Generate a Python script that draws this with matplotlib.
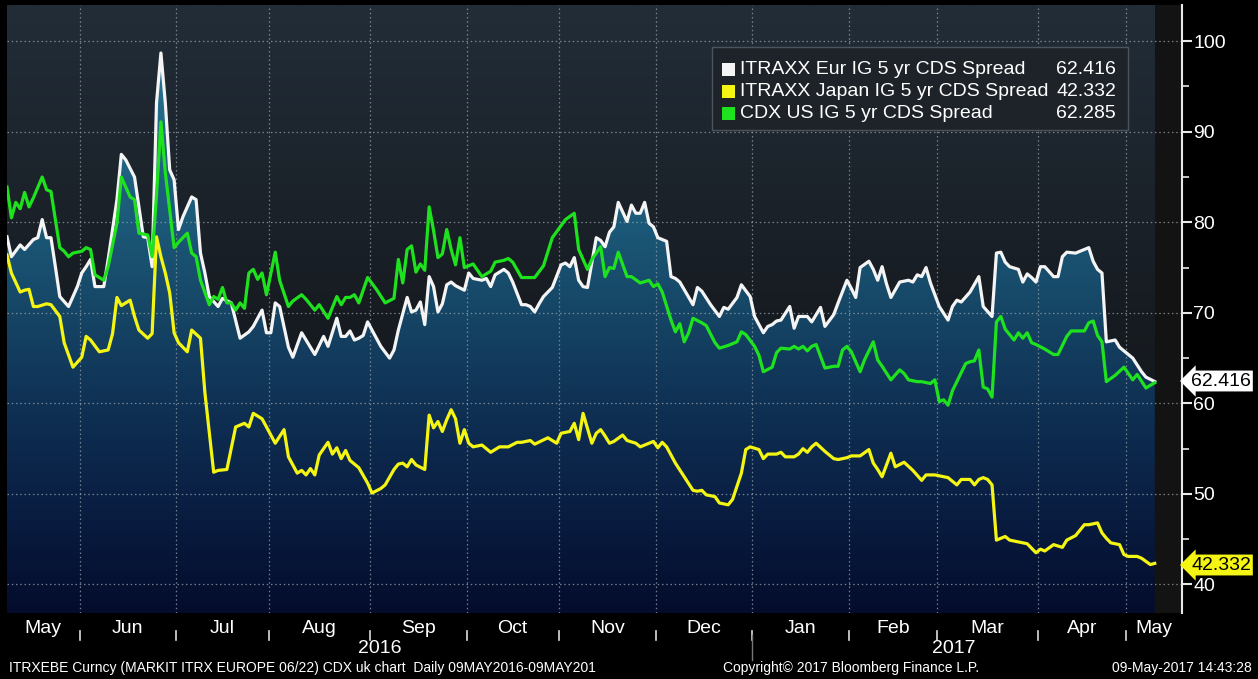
import numpy as np
import pandas as pd
import matplotlib
matplotlib.use('Agg')
import matplotlib.pyplot as plt
import matplotlib.transforms as mtransforms
from matplotlib.colors import LinearSegmentedColormap
from matplotlib.patches import Rectangle

plt.rcParams['font.family'] = ['Liberation Sans', 'DejaVu Sans']

# ITRAXX Eur IG 5 yr CDS Spread (white)
eur_dates = [
    '2016-05-09', '2016-05-10', '2016-05-12', '2016-05-13', '2016-05-17', '2016-05-18', '2016-05-19',
    '2016-05-20', '2016-05-23', '2016-05-24', '2016-05-25', '2016-05-27', '2016-05-31', '2016-06-01',
    '2016-06-02', '2016-06-03', '2016-06-06', '2016-06-08', '2016-06-09', '2016-06-13', '2016-06-14',
    '2016-06-15', '2016-06-17', '2016-06-20', '2016-06-21', '2016-06-22', '2016-06-23', '2016-06-24',
    '2016-06-27', '2016-06-28', '2016-06-29', '2016-06-30', '2016-07-01', '2016-07-04', '2016-07-06',
    '2016-07-07', '2016-07-08', '2016-07-11', '2016-07-12', '2016-07-14', '2016-07-15', '2016-07-19',
    '2016-07-21', '2016-07-25', '2016-07-26', '2016-07-28', '2016-07-29', '2016-08-01', '2016-08-02',
    '2016-08-03', '2016-08-05', '2016-08-08', '2016-08-10', '2016-08-11', '2016-08-15', '2016-08-17',
    '2016-08-18', '2016-08-22', '2016-08-23', '2016-08-24', '2016-08-25', '2016-08-26', '2016-08-29',
    '2016-08-30', '2016-08-31', '2016-09-05', '2016-09-07', '2016-09-08', '2016-09-09', '2016-09-13',
    '2016-09-14', '2016-09-15', '2016-09-16', '2016-09-19', '2016-09-20', '2016-09-21', '2016-09-22',
    '2016-09-23', '2016-09-26', '2016-09-27', '2016-09-28', '2016-09-30', '2016-10-03', '2016-10-04',
    '2016-10-06', '2016-10-07', '2016-10-10', '2016-10-11', '2016-10-13', '2016-10-14', '2016-10-17',
    '2016-10-19', '2016-10-20', '2016-10-21', '2016-10-24', '2016-10-25', '2016-10-26', '2016-10-28',
    '2016-11-01', '2016-11-02', '2016-11-03', '2016-11-04', '2016-11-07', '2016-11-08', '2016-11-09',
    '2016-11-11', '2016-11-14', '2016-11-15', '2016-11-16', '2016-11-17', '2016-11-18', '2016-11-22',
    '2016-11-23', '2016-11-24', '2016-11-25', '2016-11-28', '2016-11-29', '2016-11-30', '2016-12-01',
    '2016-12-05', '2016-12-06', '2016-12-07', '2016-12-08', '2016-12-13', '2016-12-14', '2016-12-15',
    '2016-12-19', '2016-12-21', '2016-12-22', '2016-12-23', '2016-12-27', '2016-12-28', '2016-12-30',
    '2017-01-02', '2017-01-04', '2017-01-05', '2017-01-06', '2017-01-09', '2017-01-10', '2017-01-12',
    '2017-01-13', '2017-01-16', '2017-01-18', '2017-01-19', '2017-01-23', '2017-01-24', '2017-01-26',
    '2017-01-27', '2017-01-31', '2017-02-01', '2017-02-02', '2017-02-03', '2017-02-07', '2017-02-08',
    '2017-02-09', '2017-02-10', '2017-02-13', '2017-02-14', '2017-02-16', '2017-02-20', '2017-02-21',
    '2017-02-22', '2017-02-23', '2017-02-24', '2017-02-27', '2017-03-01', '2017-03-03', '2017-03-06',
    '2017-03-07', '2017-03-08', '2017-03-10', '2017-03-14', '2017-03-15', '2017-03-17', '2017-03-20',
    '2017-03-21', '2017-03-22', '2017-03-23', '2017-03-27', '2017-03-28', '2017-03-29', '2017-03-30',
    '2017-03-31', '2017-04-03', '2017-04-04', '2017-04-06', '2017-04-07', '2017-04-10', '2017-04-11',
    '2017-04-13', '2017-04-14', '2017-04-18', '2017-04-19', '2017-04-20', '2017-04-21', '2017-04-24',
    '2017-04-26', '2017-04-27', '2017-05-01', '2017-05-02', '2017-05-04', '2017-05-05', '2017-05-09',
]
eur_vals = [
    78.4, 76.2, 77.5, 77.0, 78.1, 78.3, 80.3,
    78.3, 78.3, 75.1, 71.8, 70.7, 72.9, 74.4,
    75.1, 75.9, 72.9, 72.9, 75.9, 82.5, 87.5,
    86.9, 85.0, 81.7, 78.4, 78.3, 75.1, 93.2,
    98.7, 93.2, 85.8, 84.7, 79.2, 80.6, 82.8,
    82.5, 76.6, 74.4, 71.8, 70.7, 71.6, 71.1,
    67.2, 67.9, 68.5, 70.3, 67.8, 67.8, 71.1,
    70.7, 66.2, 65.1, 67.8, 67.0, 65.4, 67.4,
    66.3, 69.4, 67.4, 67.4, 68.0, 67.0, 67.2,
    67.5, 69.0, 66.3, 65.0, 65.9, 68.1, 71.7,
    70.1, 70.3, 71.2, 68.7, 74.0, 72.9, 70.1,
    71.0, 73.1, 73.4, 73.0, 72.5, 74.4, 73.8,
    73.6, 73.8, 72.9, 74.2, 74.8, 74.4, 73.4,
    70.9, 70.9, 70.7, 70.1, 71.0, 71.8, 72.8,
    75.3, 75.5, 75.1, 76.1, 73.6, 72.9, 72.8,
    78.3, 78.0, 77.3, 78.9, 79.5, 82.2, 80.1,
    81.9, 81.0, 81.0, 82.2, 79.9, 79.5, 78.3,
    77.9, 74.0, 73.8, 73.4, 70.9, 72.8, 72.4,
    70.9, 69.6, 70.6, 70.4, 71.7, 73.1, 71.8,
    69.6, 67.8, 68.5, 68.7, 69.1, 69.2, 70.7,
    68.3, 69.6, 69.6, 69.0, 70.6, 68.5, 69.8,
    71.1, 73.6, 72.7, 71.7, 75.0, 75.7, 74.8,
    73.6, 75.1, 73.2, 71.7, 73.4, 73.6, 73.4,
    74.2, 74.0, 75.0, 73.3, 70.7, 69.2, 70.7,
    71.4, 71.2, 72.3, 74.0, 70.7, 69.6, 76.6,
    76.7, 75.6, 75.1, 74.8, 73.4, 74.3, 73.9,
    73.4, 75.1, 75.1, 74.0, 74.0, 76.2, 76.7,
    76.6, 76.8, 77.2, 75.7, 74.8, 74.4, 66.8,
    67.0, 66.2, 65.4, 65.0, 63.5, 62.9, 62.416,
]

# ITRAXX Japan IG 5 yr CDS Spread (yellow)
jpn_dates = [
    '2016-05-09', '2016-05-10', '2016-05-12', '2016-05-13', '2016-05-16', '2016-05-17', '2016-05-18',
    '2016-05-20', '2016-05-23', '2016-05-25', '2016-05-26', '2016-05-30', '2016-06-01', '2016-06-02',
    '2016-06-03', '2016-06-07', '2016-06-09', '2016-06-10', '2016-06-13', '2016-06-14', '2016-06-16',
    '2016-06-17', '2016-06-20', '2016-06-22', '2016-06-23', '2016-06-24', '2016-06-27', '2016-06-28',
    '2016-06-29', '2016-06-30', '2016-07-01', '2016-07-05', '2016-07-06', '2016-07-08', '2016-07-11',
    '2016-07-13', '2016-07-14', '2016-07-18', '2016-07-20', '2016-07-21', '2016-07-22', '2016-07-25',
    '2016-07-26', '2016-07-28', '2016-07-29', '2016-08-02', '2016-08-04', '2016-08-05', '2016-08-09',
    '2016-08-10', '2016-08-11', '2016-08-12', '2016-08-15', '2016-08-16', '2016-08-18', '2016-08-19',
    '2016-08-22', '2016-08-23', '2016-08-24', '2016-08-25', '2016-08-29', '2016-08-31', '2016-09-01',
    '2016-09-05', '2016-09-06', '2016-09-08', '2016-09-09', '2016-09-12', '2016-09-13', '2016-09-14',
    '2016-09-15', '2016-09-19', '2016-09-20', '2016-09-21', '2016-09-22', '2016-09-23', '2016-09-26',
    '2016-09-27', '2016-09-28', '2016-09-29', '2016-09-30', '2016-10-03', '2016-10-04', '2016-10-06',
    '2016-10-10', '2016-10-12', '2016-10-14', '2016-10-18', '2016-10-19', '2016-10-21', '2016-10-24',
    '2016-10-27', '2016-10-31', '2016-11-01', '2016-11-03', '2016-11-04', '2016-11-07', '2016-11-08',
    '2016-11-10', '2016-11-11', '2016-11-14', '2016-11-15', '2016-11-16', '2016-11-17', '2016-11-21',
    '2016-11-22', '2016-11-24', '2016-11-25', '2016-11-29', '2016-11-30', '2016-12-01', '2016-12-02',
    '2016-12-05', '2016-12-07', '2016-12-09', '2016-12-13', '2016-12-14', '2016-12-15', '2016-12-16',
    '2016-12-20', '2016-12-21', '2016-12-23', '2016-12-26', '2016-12-28', '2016-12-29', '2016-12-30',
    '2017-01-03', '2017-01-04', '2017-01-05', '2017-01-09', '2017-01-10', '2017-01-11', '2017-01-13',
    '2017-01-16', '2017-01-17', '2017-01-18', '2017-01-19', '2017-01-20', '2017-01-24', '2017-01-26',
    '2017-01-27', '2017-01-31', '2017-02-01', '2017-02-03', '2017-02-07', '2017-02-08', '2017-02-09',
    '2017-02-10', '2017-02-14', '2017-02-15', '2017-02-17', '2017-02-21', '2017-02-23', '2017-02-24',
    '2017-02-28', '2017-03-03', '2017-03-07', '2017-03-08', '2017-03-10', '2017-03-13', '2017-03-14',
    '2017-03-15', '2017-03-16', '2017-03-17', '2017-03-20', '2017-03-22', '2017-03-23', '2017-03-27',
    '2017-03-29', '2017-03-31', '2017-04-03', '2017-04-04', '2017-04-06', '2017-04-10', '2017-04-11',
    '2017-04-13', '2017-04-17', '2017-04-18', '2017-04-20', '2017-04-21', '2017-04-24', '2017-04-25',
    '2017-04-27', '2017-04-28', '2017-05-01', '2017-05-03', '2017-05-04', '2017-05-08', '2017-05-09',
]
jpn_vals = [
    76.4, 74.4, 72.3, 72.5, 72.6, 70.7, 70.7,
    71.0, 70.9, 69.6, 66.7, 64.0, 65.1, 67.4,
    67.0, 65.7, 65.9, 67.7, 71.7, 70.8, 71.4,
    69.6, 68.1, 67.2, 67.7, 78.4, 76.2, 74.4,
    72.2, 67.8, 66.7, 65.7, 68.1, 67.2, 61.2,
    52.4, 52.6, 52.7, 57.4, 57.6, 57.8, 57.4,
    58.9, 58.3, 57.4, 55.6, 57.1, 54.1, 52.3,
    52.6, 52.1, 52.8, 52.1, 54.3, 55.7, 54.4,
    55.1, 53.9, 54.8, 53.7, 52.9, 51.2, 50.1,
    50.6, 51.0, 52.7, 53.3, 53.4, 53.0, 53.8,
    53.2, 52.7, 58.7, 57.3, 58.0, 56.9, 58.2,
    59.3, 58.3, 55.6, 57.1, 55.6, 55.2, 55.4,
    54.6, 55.2, 55.2, 55.7, 55.7, 55.9, 55.5,
    56.2, 55.6, 56.7, 56.9, 57.8, 56.0, 58.9,
    55.6, 56.7, 57.1, 56.4, 55.6, 55.8, 56.5,
    55.9, 55.6, 55.2, 55.6, 55.8, 55.1, 55.7,
    55.2, 53.4, 51.9, 50.4, 50.3, 50.4, 49.9,
    49.7, 49.0, 48.8, 49.4, 52.3, 54.9, 55.2,
    54.9, 53.9, 54.4, 54.4, 54.6, 54.1, 54.1,
    54.4, 55.0, 54.6, 55.2, 55.6, 54.7, 53.9,
    53.8, 54.0, 54.2, 54.2, 54.9, 53.4, 52.7,
    51.9, 54.5, 53.0, 53.5, 52.6, 51.5, 52.1,
    52.1, 51.8, 51.0, 51.6, 51.6, 51.0, 51.6,
    51.8, 51.6, 51.0, 44.9, 45.3, 44.9, 44.7,
    44.5, 43.5, 43.9, 43.7, 44.4, 44.1, 44.9,
    45.4, 46.6, 46.6, 46.8, 45.7, 45.1, 44.6,
    44.4, 43.3, 43.1, 43.1, 42.9, 42.2, 42.332,
]

# CDX US IG 5 yr CDS Spread (green)
us_dates = [
    '2016-05-09', '2016-05-10', '2016-05-11', '2016-05-12', '2016-05-13', '2016-05-16', '2016-05-17',
    '2016-05-19', '2016-05-20', '2016-05-23', '2016-05-25', '2016-05-26', '2016-05-27', '2016-05-30',
    '2016-06-01', '2016-06-02', '2016-06-03', '2016-06-06', '2016-06-08', '2016-06-09', '2016-06-13',
    '2016-06-14', '2016-06-16', '2016-06-17', '2016-06-20', '2016-06-22', '2016-06-23', '2016-06-24',
    '2016-06-27', '2016-06-28', '2016-06-30', '2016-07-01', '2016-07-05', '2016-07-06', '2016-07-07',
    '2016-07-08', '2016-07-12', '2016-07-13', '2016-07-14', '2016-07-15', '2016-07-18', '2016-07-19',
    '2016-07-20', '2016-07-21', '2016-07-22', '2016-07-25', '2016-07-26', '2016-07-27', '2016-07-28',
    '2016-07-29', '2016-08-02', '2016-08-03', '2016-08-05', '2016-08-08', '2016-08-10', '2016-08-11',
    '2016-08-15', '2016-08-16', '2016-08-18', '2016-08-22', '2016-08-23', '2016-08-24', '2016-08-25',
    '2016-08-26', '2016-08-29', '2016-08-31', '2016-09-02', '2016-09-06', '2016-09-08', '2016-09-09',
    '2016-09-12', '2016-09-13', '2016-09-14', '2016-09-15', '2016-09-16', '2016-09-19', '2016-09-20',
    '2016-09-21', '2016-09-22', '2016-09-23', '2016-09-26', '2016-09-27', '2016-09-28', '2016-09-29',
    '2016-09-30', '2016-10-04', '2016-10-06', '2016-10-10', '2016-10-11', '2016-10-13', '2016-10-14',
    '2016-10-17', '2016-10-19', '2016-10-24', '2016-10-26', '2016-10-28', '2016-11-02', '2016-11-04',
    '2016-11-07', '2016-11-09', '2016-11-10', '2016-11-14', '2016-11-15', '2016-11-16', '2016-11-17',
    '2016-11-18', '2016-11-22', '2016-11-23', '2016-11-25', '2016-11-29', '2016-11-30', '2016-12-01',
    '2016-12-02', '2016-12-06', '2016-12-07', '2016-12-08', '2016-12-09', '2016-12-12', '2016-12-13',
    '2016-12-15', '2016-12-16', '2016-12-20', '2016-12-21', '2016-12-23', '2016-12-27', '2016-12-28',
    '2016-12-29', '2017-01-02', '2017-01-03', '2017-01-04', '2017-01-06', '2017-01-09', '2017-01-10',
    '2017-01-12', '2017-01-13', '2017-01-16', '2017-01-17', '2017-01-18', '2017-01-19', '2017-01-20',
    '2017-01-24', '2017-01-26', '2017-01-27', '2017-01-30', '2017-01-31', '2017-02-01', '2017-02-03',
    '2017-02-06', '2017-02-08', '2017-02-09', '2017-02-10', '2017-02-14', '2017-02-16', '2017-02-17',
    '2017-02-20', '2017-02-22', '2017-02-23', '2017-02-27', '2017-02-28', '2017-03-01', '2017-03-02',
    '2017-03-03', '2017-03-06', '2017-03-08', '2017-03-09', '2017-03-10', '2017-03-13', '2017-03-14',
    '2017-03-15', '2017-03-16', '2017-03-17', '2017-03-20', '2017-03-21', '2017-03-22', '2017-03-23',
    '2017-03-24', '2017-03-27', '2017-03-28', '2017-03-29', '2017-03-30', '2017-03-31', '2017-04-04',
    '2017-04-06', '2017-04-07', '2017-04-11', '2017-04-12', '2017-04-17', '2017-04-18', '2017-04-19',
    '2017-04-20', '2017-04-21', '2017-04-24', '2017-04-26', '2017-04-28', '2017-05-01', '2017-05-02',
    '2017-05-03', '2017-05-05', '2017-05-08', '2017-05-09',
]
us_vals = [
    83.9, 80.5, 82.2, 81.5, 83.3, 81.7, 82.7,
    85.0, 83.6, 83.4, 77.2, 76.8, 76.2, 76.6,
    76.8, 77.2, 77.0, 74.2, 73.6, 75.1, 79.9,
    85.0, 82.8, 82.5, 78.8, 78.6, 76.2, 83.0,
    91.1, 85.5, 77.2, 77.8, 78.8, 76.6, 76.2,
    73.6, 70.9, 71.8, 71.5, 72.8, 71.1, 71.1,
    70.3, 71.1, 70.5, 74.4, 74.8, 73.7, 74.4,
    72.0, 76.7, 73.6, 70.7, 71.3, 72.0, 71.5,
    70.3, 70.9, 69.4, 71.8, 70.9, 71.7, 71.7,
    72.0, 71.1, 73.9, 72.6, 71.1, 71.6, 75.9,
    73.3, 77.0, 77.4, 74.5, 75.4, 74.7, 81.7,
    79.1, 76.1, 76.5, 79.2, 77.0, 75.3, 78.3,
    75.0, 75.4, 74.0, 74.6, 75.6, 75.8, 76.0,
    75.6, 73.9, 73.9, 75.2, 78.3, 80.3, 81.0,
    77.0, 74.8, 75.9, 77.3, 74.0, 75.0, 74.9,
    76.7, 74.0, 74.0, 73.3, 73.6, 72.9, 73.2,
    72.3, 69.2, 67.9, 68.8, 66.8, 67.8, 69.4,
    68.9, 68.6, 66.7, 66.1, 66.4, 66.8, 67.9,
    67.6, 66.3, 65.3, 63.5, 64.0, 65.6, 66.1,
    66.0, 66.3, 66.0, 66.3, 65.8, 66.3, 66.5,
    63.9, 64.1, 64.1, 65.9, 66.3, 65.7, 63.5,
    64.8, 66.8, 64.8, 64.1, 62.6, 63.7, 63.3,
    62.6, 62.4, 62.4, 62.2, 62.6, 60.2, 60.4,
    59.8, 61.4, 63.4, 64.4, 64.6, 64.7, 65.9,
    61.8, 61.6, 60.7, 69.0, 69.6, 68.2, 67.6,
    67.0, 67.8, 67.2, 67.8, 66.7, 66.5, 66.0,
    65.4, 65.4, 67.4, 68.0, 68.0, 68.9, 69.1,
    67.5, 66.8, 62.4, 63.1, 64.0, 63.3, 62.6,
    63.2, 61.7, 62.0, 62.285,
]

series_names = ['ITRAXX Eur IG 5 yr CDS Spread', 'ITRAXX Japan IG 5 yr CDS Spread', 'CDX US IG 5 yr CDS Spread']
last_values = ['62.416', '42.332', '62.285']
month_names = ['May', 'Jun', 'Jul', 'Aug', 'Sep', 'Oct', 'Nov', 'Dec', 'Jan', 'Feb', 'Mar', 'Apr', 'May']
y_ticks = [40, 50, 60, 70, 80, 90, 100]

W, H = 1258, 679
C_WHITE = '#f4f4f4'
C_YELLOW = '#f5f514'
C_GREEN = '#1ee21e'

# trading-day axis, like the terminal chart
bdays = pd.bdate_range('2016-05-09', '2017-05-09')


def to_pos(dates):
    return bdays.get_indexer(pd.to_datetime(dates))


def fx(px):
    return px / W


def fy(py):
    return 1 - py / H


x_eur, x_jpn, x_us = to_pos(eur_dates), to_pos(jpn_dates), to_pos(us_dates)
last = len(bdays) - 1
x_max = last + 6.2
y_min, y_max = 36.85, 104.0

fig = plt.figure(figsize=(W / 100, H / 100), dpi=100, facecolor='black')
ax = fig.add_axes([fx(7), 66 / H, fx(1182 - 7), 608 / H])
ax.set_xlim(0, x_max)
ax.set_ylim(y_min, y_max)
ax.set_facecolor('black')

# background gradient (above the filled area)
bg_cmap = LinearSegmentedColormap.from_list('bg', ['#101317', '#171c22', '#222d38'])
grad = np.linspace(0, 1, 256).reshape(-1, 1)
ax.imshow(grad, extent=[0, last, y_min, y_max], origin='lower', aspect='auto', cmap=bg_cmap, zorder=0)
ax.axvspan(last, x_max, color='#131313', zorder=0.5, lw=0)

# gradient fill under the Eur line
fill_cmap = LinearSegmentedColormap.from_list('fill', [
    (0.0, '#040c2c'), (0.2, '#0a2145'), (0.35, '#0f3255'),
    (0.5, '#164666'), (0.65, '#1c5a79'), (1.0, '#2b7a98')])
poly = ax.fill_between(x_eur, eur_vals, y_min, color='none', lw=0)
im = ax.imshow(grad, extent=[0, last, y_min, y_max], origin='lower', aspect='auto', cmap=fill_cmap, zorder=1)
im.set_clip_path(poly.get_paths()[0], transform=ax.transData)

# month boundaries
month_starts = [i for i in range(1, len(bdays)) if bdays[i].month != bdays[i - 1].month]
bounds = [0] + [m - 0.5 for m in month_starts] + [x_max]
for v in y_ticks:
    ax.axhline(v, color='#9aa3ad', lw=0.9, ls=(0, (1.2, 2.2)), alpha=0.75, zorder=2)
for b in bounds[1:-1]:
    ax.axvline(b, color='#9aa3ad', lw=0.9, ls=(0, (1.2, 2.2)), alpha=0.75, zorder=2)

ax.plot(x_eur, eur_vals, color=C_WHITE, lw=2.3, zorder=4, solid_joinstyle='round')
ax.plot(x_jpn, jpn_vals, color=C_YELLOW, lw=2.3, zorder=5, solid_joinstyle='round')
ax.plot(x_us, us_vals, color=C_GREEN, lw=2.3, zorder=6, solid_joinstyle='round')

# axes styling
for s in ['left', 'top', 'bottom']:
    ax.spines[s].set_visible(False)
ax.spines['right'].set_color('#e8e8e8')
ax.spines['right'].set_linewidth(1.5)
ax.yaxis.tick_right()
ax.set_yticks(y_ticks)
ax.set_yticks([45, 55, 65, 75, 85, 95], minor=True)
ax.tick_params(axis='y', which='major', colors='#e8e8e8', labelcolor='white', length=7, width=1.5,
               labelsize=14, pad=1)
ax.tick_params(axis='y', which='minor', colors='#e8e8e8', length=5, width=1.2)
ax.set_xticks([])

trans = mtransforms.blended_transform_factory(ax.transData, ax.transAxes)
for i, name in enumerate(month_names):
    ax.text((bounds[i] + bounds[i + 1]) / 2, -0.025, name, transform=trans, color='white',
            fontsize=14, ha='center', va='center')
for b in bounds[1:-1]:
    ax.plot([b, b], [-0.03, -0.044], transform=trans, color='#dddddd', lw=1.2, clip_on=False)
year_split = bounds[8]
ax.text(year_split / 2, -0.059, '2016', transform=trans, color='white', fontsize=14, ha='center', va='center')
ax.text((year_split + last) / 2, -0.059, '2017', transform=trans, color='white', fontsize=14,
        ha='center', va='center')
ax.plot([year_split, year_split], [-0.037, -0.078], transform=trans, color='#777777', lw=1, clip_on=False)

# legend box
fig.add_artist(Rectangle((fx(712), fy(130)), fx(416), 83 / H, transform=fig.transFigure,
                         facecolor='#1d2329', edgecolor='#50565d', lw=1, alpha=0.95, zorder=2.5))
for i, (name, val, col) in enumerate(zip(series_names, last_values, [C_WHITE, C_YELLOW, C_GREEN])):
    yy = 69 + 22 * i
    fig.add_artist(Rectangle((fx(722), fy(yy + 7)), fx(13), 13 / H, transform=fig.transFigure,
                             facecolor=col, edgecolor='none', zorder=3))
    fig.text(fx(740), fy(yy), name, color='white', fontsize=14, va='center', ha='left', zorder=4)
    fig.text(fx(1116), fy(yy), val, color='white', fontsize=14, va='center', ha='right', zorder=4)

# last value tags
fig.text(fx(1191), fy(381), last_values[0], color='black', fontsize=14, va='center', ha='left',
         bbox=dict(boxstyle='larrow,pad=0.1', fc='white', ec='none'), zorder=5)
fig.text(fx(1191), fy(565), last_values[1], color='black', fontsize=14, va='center', ha='left',
         bbox=dict(boxstyle='larrow,pad=0.1', fc=C_YELLOW, ec='none'), zorder=5)

# footer
fig.text(fx(9), fy(668), 'ITRXEBE Curncy (MARKIT ITRX EUROPE 06/22) CDX uk chart  Daily 09MAY2016-09MAY201',
         color='white', fontsize=10, va='center', ha='left')
fig.text(fx(851), fy(668), 'Copyright\u00a9 2017 Bloomberg Finance L.P.', color='white', fontsize=10,
         va='center', ha='center')
fig.text(fx(1252), fy(668), '09-May-2017 14:43:28', color='white', fontsize=10, va='center', ha='right')

fig.savefig('out.png', dpi=100, facecolor='black')
